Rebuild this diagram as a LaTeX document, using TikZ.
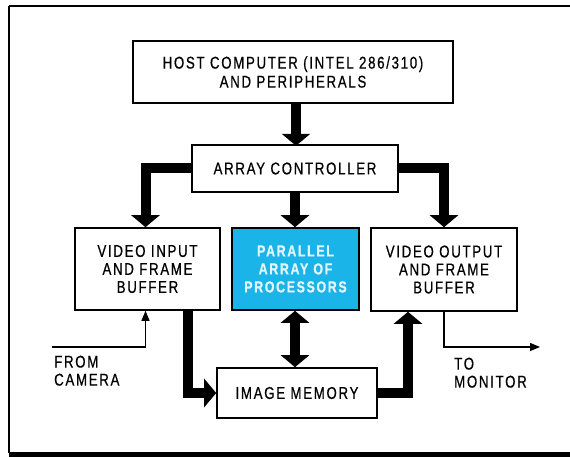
\documentclass[tikz,border=0pt]{standalone}
\usepackage{fontspec}
\setmainfont{Liberation Sans}[FakeStretch=0.78, LetterSpace=10, FakeBold=0.6]
\usetikzlibrary{arrows.meta}
\definecolor{pacyan}{HTML}{1AB4E8}
\definecolor{patext}{HTML}{E4F5FF}
\begin{document}
\begin{tikzpicture}[x=1bp,y=-1bp,
  box/.style={draw=black, line width=1.6bp, inner sep=0pt, align=center,
    font=\fontsize{17bp}{18bp}\selectfont},
  bigarrow/.style={line width=10bp, line join=miter, line cap=butt,
    -{Triangle[width=28bp,length=12bp]}},
  bigboth/.style={line width=10bp, {Triangle[width=28bp,length=12bp]}-{Triangle[width=28bp,length=12bp]}},
  thinarrow/.style={line width=1.2bp, -{Triangle[width=8bp,length=10bp]}},
  lbl/.style={inner sep=0pt, align=left, font=\fontsize{17bp}{18bp}\selectfont}]
\useasboundingbox (0,0) rectangle (570,457);
% frame
\draw[line width=1.5bp] (9,6) -- (9,453);
\draw[line width=2bp] (9,6) -- (570,6);
\draw[line width=5bp] (9,454.5) -- (570,454.5);
% boxes
\node[box, minimum width=320bp, minimum height=62bp, font=\fontsize{17bp}{19bp}\selectfont] (host) at (293,72) {HOST COMPUTER (INTEL 286/310)\\AND PERIPHERALS};
\node[box, minimum width=206bp, minimum height=47bp] (ac) at (295,168.5) {ARRAY CONTROLLER};
\node[box, minimum width=145bp, minimum height=82bp] (vi) at (147.5,269) {VIDEO INPUT\\AND FRAME\\BUFFER};
\node[box, fill=pacyan, text=patext, minimum width=127bp, minimum height=82bp, font=\fontsize{16bp}{18bp}\selectfont\bfseries] (pa) at (295.5,269) {PARALLEL\\ARRAY OF\\PROCESSORS};
\node[box, minimum width=146bp, minimum height=83bp] (vo) at (444,269.5) {VIDEO OUTPUT\\AND FRAME\\BUFFER};
\node[box, minimum width=160bp, minimum height=50bp] (im) at (297,393) {IMAGE MEMORY};
% labels
\node[lbl, anchor=north west] (fromcam) at (54,355.5) {FROM\\CAMERA};
\node[lbl, anchor=north west] (tomon) at (454,357.5) {TO\\MONITOR};
\coordinate (cam) at (52,347);
\coordinate (mon) at (540,347);
% thick connectors
\draw[bigarrow] (host.south -| ac.north) ++(1,0) -- ++(0,42);
\draw[bigarrow] (ac.west) -| ([xshift=-2bp]vi.north);
\draw[bigarrow] (ac.east) -| (vo.north);
\draw[bigarrow] (ac.south) -- (ac.south |- pa.north);
\draw[bigboth] (pa.south -| ac.south) -- (ac.south |- im.north);
\draw[bigarrow] (vi.south) ++(40,0) |- (im.west);
\draw[bigarrow] (im.east) -| ([xshift=-36bp]vo.south);
% thin connectors
\draw[thinarrow] (cam) -| ([xshift=-2bp]vi.south);
\draw[thinarrow] (vo.south) |- (mon);
\end{tikzpicture}
\end{document}
